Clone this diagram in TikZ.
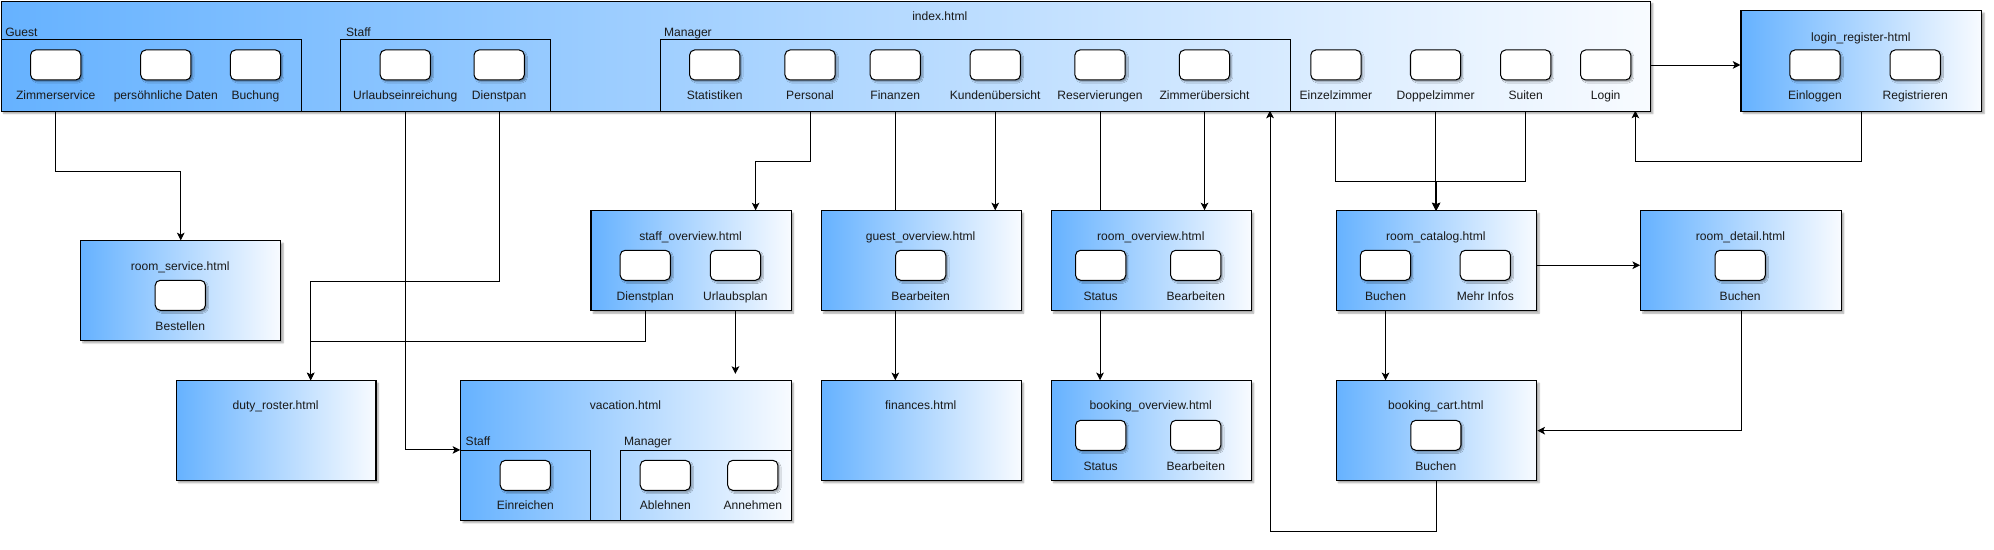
\documentclass[tikz,border=0pt]{standalone}
\usepackage{fontspec}
\setmainfont{Liberation Sans}
\usetikzlibrary{shadows,shadows.blur,arrows.meta,calc}
\pgfdeclarelayer{bg}
\pgfsetlayers{bg,main}
\definecolor{gblue}{HTML}{66B2FF}
\definecolor{gwhite}{HTML}{F8FBFF}
\definecolor{txt}{HTML}{1A1A1A}
\tikzset{
  pagebox/.style={draw=black, line width=0.9pt, left color=gblue, right color=gwhite, anchor=north west, inner sep=0pt,
    blur shadow={shadow xshift=1.8pt, shadow yshift=-1.8pt, shadow blur radius=1.2pt, shadow blur steps=6, shadow opacity=35}},
  grp/.style={draw=black, line width=0.8pt, anchor=north west, inner sep=0pt},
  btn/.style={draw=black, line width=0.8pt, fill=white, rounded corners=4pt, minimum width=39.5pt, minimum height=23.6pt, inner sep=0pt,
    blur shadow={shadow xshift=1.5pt, shadow yshift=-1.5pt, shadow blur radius=1pt, shadow blur steps=5, shadow opacity=35}},
  lbl/.style={font={\fontsize{9.5}{11}\selectfont}, inner sep=0pt, text=txt, anchor=base},
  glbl/.style={lbl, anchor=base west},
  edge/.style={draw=black, line width=0.75pt, -{Stealth[length=6pt,width=6pt,inset=1.5pt]}}
}
\begin{document}
\begin{tikzpicture}[x=1pt,y=-1pt]
\useasboundingbox (0,0) rectangle (1568,432.5);

% ---------------- index.html ----------------
\node[pagebox, minimum width=1297pt, minimum height=86.5pt] (idx) at (0.5,0.5) {};
\node[lbl] (idxT) at (739,16.5) {index.html};
\node[grp, minimum width=236pt, minimum height=56pt] (gGuest) at (0.5,31) {};
\node[grp, minimum width=164.9pt, minimum height=56pt] (gStaff) at (267.7,31) {};
\node[grp, minimum width=495.7pt, minimum height=56pt] (gMan) at (519,31) {};
\node[glbl] (gGuestL) at (4,28.4) {Guest};
\node[glbl] (gStaffL) at (272,28.4) {Staff};
\node[glbl] (gManL) at (522,28.4) {Manager};

\node[btn] (bZs) at (43.8,51.1) {};   \node[lbl] (lZs) at (43.8,78.6) {Zimmerservice};
\node[btn] (bPd) at (130.4,51.1) {};  \node[lbl] (lPd) at (130.4,78.6) {persöhnliche Daten};
\node[btn] (bBu) at (200.9,51.1) {};  \node[lbl] (lBu) at (200.9,78.6) {Buchung};
\node[btn] (bUe) at (318.7,51.1) {};  \node[lbl] (lUe) at (318.7,78.6) {Urlaubseinreichung};
\node[btn] (bDp) at (392.5,51.1) {};  \node[lbl] (lDp) at (392.5,78.6) {Dienstpan};
\node[btn] (bSt) at (562,51.1) {};    \node[lbl] (lSt) at (562,78.6) {Statistiken};
\node[btn] (bPers) at (637,51.1) {};  \node[lbl] (lPers) at (637,78.6) {Personal};
\node[btn] (bFin) at (704,51.1) {};   \node[lbl] (lFin) at (704,78.6) {Finanzen};
\node[btn] (bKu) at (782.6,51.1) {};  \node[lbl] (lKu) at (782.6,78.6) {Kundenübersicht};
\node[btn] (bRes) at (865,51.1) {};   \node[lbl] (lRes) at (865,78.6) {Reservierungen};
\node[btn] (bZu) at (947.2,51.1) {};  \node[lbl] (lZu) at (947.2,78.6) {Zimmerübersicht};
\node[btn] (bEz) at (1050.5,51.1) {}; \node[lbl] (lEz) at (1050.5,78.6) {Einzelzimmer};
\node[btn] (bDz) at (1128.9,51.1) {}; \node[lbl] (lDz) at (1128.9,78.6) {Doppelzimmer};
\node[btn] (bSu) at (1199.7,51.1) {}; \node[lbl] (lSu) at (1199.7,78.6) {Suiten};
\node[btn] (bLogin) at (1262.6,51.1) {}; \node[lbl] (lLogin) at (1262.6,78.6) {Login};

% ---------------- login_register ----------------
\node[pagebox, minimum width=189.4pt, minimum height=79pt] (lr) at (1368.6,8) {};
\node[lbl] (lrT) at (1463.3,32.3) {login\_register-html};
\node[btn] (bEin) at (1427.2,51.1) {}; \node[lbl] (lEin) at (1427.2,78.6) {Einloggen};
\node[btn] (bReg) at (1506,51.1) {};   \node[lbl] (lReg) at (1506,78.6) {Registrieren};

% ---------------- row 1 pages ----------------
\node[pagebox, minimum width=157.4pt, minimum height=78.4pt] (rs) at (63,189) {};
\node[lbl] (rsT) at (141.7,212.4) {room\_service.html};
\node[btn] (bBest) at (141.8,232.2) {}; \node[lbl] (lBest) at (141.8,259.6) {Bestellen};

\node[pagebox, minimum width=157.4pt, minimum height=78.6pt] (so) at (464.3,165.4) {};
\node[lbl] (soT) at (543,188.8) {staff\_overview.html};
\node[btn] (bDpl) at (507.4,208.6) {}; \node[lbl] (lDpl) at (507.4,236.1) {Dienstplan};
\node[btn] (bUp) at (578.3,208.6) {};  \node[lbl] (lUp) at (578.3,236.1) {Urlaubsplan};

\node[pagebox, minimum width=157.2pt, minimum height=78.6pt] (go) at (645.4,165.4) {};
\node[lbl] (goT) at (724,188.8) {guest\_overview.html};
\node[btn] (bGoB) at (724,208.6) {}; \node[lbl] (lGoB) at (724,236.1) {Bearbeiten};

\node[pagebox, minimum width=157.3pt, minimum height=78.6pt] (ro) at (826.2,165.4) {};
\node[lbl] (roT) at (904.9,188.8) {room\_overview.html};
\node[btn] (bRoS) at (865.5,208.6) {}; \node[lbl] (lRoS) at (865.5,236.1) {Status};
\node[btn] (bRoB) at (940.3,208.6) {}; \node[lbl] (lRoB) at (940.3,236.1) {Bearbeiten};

\node[pagebox, minimum width=157.8pt, minimum height=78.6pt] (rc) at (1050.2,165.4) {};
\node[lbl] (rcT) at (1129.1,188.8) {room\_catalog.html};
\node[btn] (bRcB) at (1089.5,208.6) {}; \node[lbl] (lRcB) at (1089.5,236.1) {Buchen};
\node[btn] (bMi) at (1168,208.6) {};    \node[lbl] (lMi) at (1168,236.1) {Mehr Infos};

\node[pagebox, minimum width=157.8pt, minimum height=78.6pt] (rd) at (1289.7,165.4) {};
\node[lbl] (rdT) at (1368.6,188.8) {room\_detail.html};
\node[btn] (bRdB) at (1368.4,208.6) {}; \node[lbl] (lRdB) at (1368.4,236.1) {Buchen};

% ---------------- row 2 pages ----------------
\node[pagebox, minimum width=157pt, minimum height=78.4pt] (dr) at (138.2,299) {};
\node[lbl] (drT) at (216.7,322.4) {duty\_roster.html};

\node[pagebox, minimum width=259.8pt, minimum height=109.8pt] (vac) at (361.9,299) {};
\node[lbl] (vacT) at (491.8,322.4) {vacation.html};
\node[grp, minimum width=102.4pt, minimum height=55pt] (vS) at (361.9,353.8) {};
\node[grp, minimum width=134pt, minimum height=55pt] (vM) at (487.7,353.8) {};
\node[glbl] (vSL) at (366,350) {Staff};
\node[glbl] (vML) at (490.5,350) {Manager};
\node[btn] (bEr) at (413.1,373.8) {}; \node[lbl] (lEr) at (413.1,401) {Einreichen};
\node[btn] (bAb) at (523.2,373.8) {}; \node[lbl] (lAb) at (523.2,401) {Ablehnen};
\node[btn] (bAn) at (592,373.8) {};   \node[lbl] (lAn) at (592,401) {Annehmen};

\node[pagebox, minimum width=157.2pt, minimum height=78.4pt] (fin) at (645.4,299) {};
\node[lbl] (finT) at (724,322.4) {finances.html};

\node[pagebox, minimum width=157.3pt, minimum height=78.4pt] (bo) at (826.2,299) {};
\node[lbl] (boT) at (904.9,322.4) {booking\_overview.html};
\node[btn] (bBoS) at (865.5,342.3) {}; \node[lbl] (lBoS) at (865.5,369.7) {Status};
\node[btn] (bBoB) at (940.3,342.3) {}; \node[lbl] (lBoB) at (940.3,369.7) {Bearbeiten};

\node[pagebox, minimum width=157.8pt, minimum height=78.4pt] (bc) at (1050.2,299) {};
\node[lbl] (bcT) at (1129.1,322.4) {booking\_cart.html};
\node[btn] (bBcB) at (1129.1,342.3) {}; \node[lbl] (lBcB) at (1129.1,369.7) {Buchen};

% ---------------- connector helper points ----------------
\coordinate (drIn) at ($(dr.north west)+(106.1,0)$);
\coordinate (soIn) at ($(so.north west)+(129.9,0)$);
\coordinate (idxLoginIn) at (1286,87);
\coordinate (idxCartIn) at (998.7,87);

% ---------------- connectors ----------------
\begin{pgfonlayer}{bg}
\draw[edge] (bZs |- idx.south) -- ++(0,46.6) -| (rs.north);
\draw[edge] (bUe |- idx.south) |- (vS.north west);
\draw[edge] (bDp |- idx.south) -- ++(0,133.4) -| (drIn);
\draw[edge] (bDpl |- so.south) -- ++(0,23.4) -| (drIn);
\draw[edge, shorten >=5pt] (bUp |- so.south) -- (bUp |- vac.north);
\draw[edge] (bPers |- idx.south) -- ++(0,39) -| (soIn);
\draw[edge] (bFin |- idx.south) -- (bFin |- fin.north);
\draw[edge] (bKu |- idx.south) -- (bKu |- go.north);
\draw[edge] (bRes |- idx.south) -- (bRes |- bo.north);
\draw[edge] (bZu |- idx.south) -- (bZu |- ro.north);
\draw[edge] (bEz |- idx.south) -- ++(0,54.5) -| (rc.north);
\draw[edge] (bDz |- idx.south) -- (bDz |- rc.north);
\draw[edge] (bSu |- idx.south) -- ++(0,54.5) -| (rc.north);
\draw[edge] (bLogin.east) -- (bLogin.east -| lr.west);
\draw[edge] (lr.south) -- ++(0,38.8) -| (idxLoginIn);
\draw[edge] (bMi.east) -- (bMi.east -| rd.west);
\draw[edge] (bRcB |- rc.south) -- (bRcB |- bc.north);
\draw[edge] (rd.south) |- (bc.east);
\draw[edge] (bc.south) -- ++(0,39.3) -| (idxCartIn);
\end{pgfonlayer}
\end{tikzpicture}
\end{document}
